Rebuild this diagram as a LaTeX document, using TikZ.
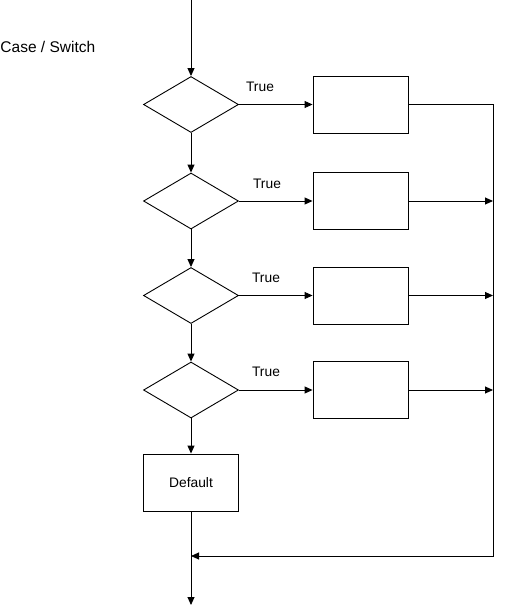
\documentclass[tikz,border=0pt]{standalone}
\usepackage{fontspec}
\setmainfont{Liberation Sans}
\usetikzlibrary{shapes.geometric,arrows.meta}

\tikzset{
  decision/.style={draw, diamond, inner sep=0pt, minimum width=95pt, minimum height=56pt},
  process/.style={draw, rectangle, inner sep=0pt, minimum width=95pt, minimum height=57pt, font=\fontsize{13.8}{16}\selectfont},
  flow/.style={-{Triangle[length=8pt,width=7pt]}},
  truelabel/.style={font=\fontsize{13.8}{16}\selectfont}
}

\begin{document}
\begin{tikzpicture}[x=1pt, y=-1pt, draw=black, line width=0.9pt]
\useasboundingbox (0,0) rectangle (524,606);

\node[anchor=west, inner sep=0pt, font=\fontsize{15.5}{18}\selectfont] (title) at (0,47) {Case / Switch};

% the chain of cases
\coordinate (start) at (191,0);
\node[decision] (d1) at (191,104.5) {};
\node[decision] (d2) at (191,201) {};
\node[decision] (d3) at (191,295.5) {};
\node[decision] (d4) at (191,390) {};
\node[process] (default) at (191,482.5) {Default};
\coordinate (stop) at (191,605);

\node[process] (b1) at (360.5,104.5) {};
\node[process] (b2) at (360.5,201) {};
\node[process] (b3) at (360.5,295.5) {};
\node[process] (b4) at (360.5,390) {};

\node[truelabel] (t1) at (260,87) {True};
\node[truelabel] (t2) at (267,184) {True};
\node[truelabel] (t3) at (266,277.5) {True};
\node[truelabel] (t4) at (266,372) {True};

% collecting line on the right
\coordinate (r1) at (493,104.5);
\coordinate (r2) at (493,201);
\coordinate (r3) at (493,295.5);
\coordinate (r4) at (493,390);
\coordinate (r5) at (493,556);
\coordinate (join) at (191,556);

\draw[flow] (start) -- (d1.north);
\draw[flow] (d1.south) -- (d2.north);
\draw[flow] (d2.south) -- (d3.north);
\draw[flow] (d3.south) -- (d4.north);
\draw[flow] (d4.south) -- (default.north);
\draw[flow] (default.south) -- (stop);

\draw[flow] (d1.east) -- (b1.west);
\draw[flow] (d2.east) -- (b2.west);
\draw[flow] (d3.east) -- (b3.west);
\draw[flow] (d4.east) -- (b4.west);

\draw[flow] (b1.east) -- (r1) -- (r5) -- (join);
\draw[flow] (b2.east) -- (r2);
\draw[flow] (b3.east) -- (r3);
\draw[flow] (b4.east) -- (r4);
\end{tikzpicture}
\end{document}
